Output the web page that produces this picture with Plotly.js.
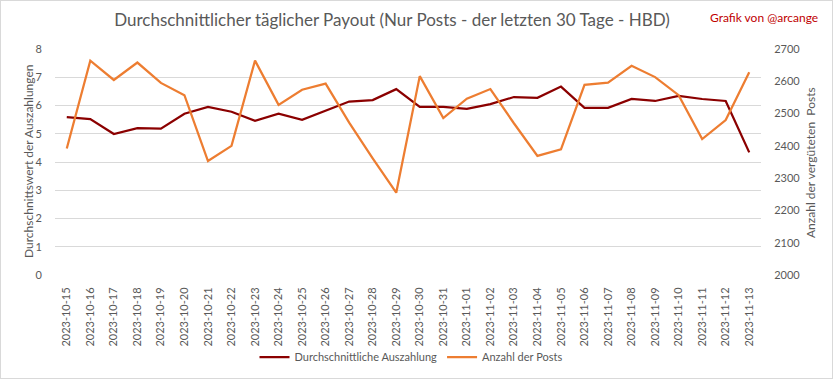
<!DOCTYPE html>
<html><head><meta charset="utf-8">
<script src="https://cdn.plot.ly/plotly-3.0.1.min.js"></script>
<style>
html,body{margin:0;padding:0;background:#fff;}
#chart{width:833px;height:379px;box-sizing:border-box;border:1px solid #d9d9d9;}
</style></head>
<body><div id="chart"></div>
<script>
const dates = ["2023-10-15","2023-10-16","2023-10-17","2023-10-18","2023-10-19","2023-10-20","2023-10-21","2023-10-22","2023-10-23","2023-10-24","2023-10-25","2023-10-26","2023-10-27","2023-10-28","2023-10-29","2023-10-30","2023-10-31","2023-11-01","2023-11-02","2023-11-03","2023-11-04","2023-11-05","2023-11-06","2023-11-07","2023-11-08","2023-11-09","2023-11-10","2023-11-11","2023-11-12","2023-11-13"];
const avgPayout = [5.59,5.52,4.99,5.20,5.18,5.71,5.95,5.78,5.46,5.71,5.49,5.81,6.14,6.19,6.58,5.95,5.95,5.88,6.05,6.30,6.27,6.67,5.92,5.92,6.23,6.16,6.34,6.23,6.16,4.34];
const postCount = [2392,2664,2604,2658,2595,2557,2353,2400,2664,2527,2574,2593,2472,2361,2255,2616,2486,2546,2576,2470,2369,2389,2589,2596,2648,2613,2557,2421,2480,2628];
const leftTicks = [0,1,2,3,4,5,6,7,8];
const rightTicks = [2000,2100,2200,2300,2400,2500,2600,2700];

const gray = '#595959';
const fnt = 'Lato, "Open Sans", sans-serif';
const W = 831, H = 377, L = 54, R = 71, T = 48, B = 103;
const pw = W - L - R, ph = H - T - B;
const clear = 'rgba(0,0,0,0)';
const traces = [
  {x: dates, y: avgPayout, type:'scatter', mode:'lines', name:'Durchschnittliche Auszahlung',
   line:{color:'#8b0000', width:2.25}, yaxis:'y'},
  {x: dates, y: postCount, type:'scatter', mode:'lines', name:'Anzahl der Posts',
   line:{color:'#ed7d31', width:2.25}, yaxis:'y2'}
];
const layout = {
  width:W, height:H,
  margin:{l:L, r:R, t:T, b:B, pad:0, autoexpand:false},
  paper_bgcolor:'#fff', plot_bgcolor:'#fff',
  font:{family:fnt, color:gray, size:11},
  title:{text:'Durchschnittlicher täglicher Payout (Nur Posts - der letzten 30 Tage - HBD)',
    font:{family:fnt, size:17, color:gray}, xref:'container', x:391/W, xanchor:'center',
    yref:'container', y:1-19/H, yanchor:'middle'},
  xaxis:{type:'category', tickvals:dates, ticktext:dates, tickangle:-90, range:[-0.5, dates.length-0.5],
    showgrid:false, showline:false, zeroline:false, ticks:'outside', ticklen:7, tickcolor:clear,
    tickfont:{size:11, color:gray}, automargin:false},
  yaxis:{range:[0,8], tickvals:leftTicks, showgrid:true, gridcolor:'#d9d9d9', gridwidth:1,
    zeroline:false, showline:false, ticks:'outside', ticklen:10, tickcolor:clear,
    tickfont:{size:11, color:gray}, automargin:false},
  yaxis2:{range:[2000,2700], tickvals:rightTicks, overlaying:'y', side:'right', showgrid:false,
    zeroline:false, showline:false, ticks:'outside', ticklen:10, tickcolor:clear,
    tickfont:{size:11, color:gray}, automargin:false},
  showlegend:true,
  legend:{orientation:'h', xref:'container', yref:'container', x:410/W, xanchor:'center',
    y:1-356/H, yanchor:'middle', font:{size:11, color:gray}, bgcolor:clear},
  annotations:[
    {text:'Grafik von @arcange', xref:'paper', yref:'paper',
     x:(819-L)/pw, xanchor:'right', y:1+(T-17)/ph, yanchor:'middle', showarrow:false,
     font:{family:fnt, size:12, color:'#c00000'}},
    {text:'Durchschnittswert der Auszahlungen', xref:'paper', yref:'paper', textangle:-90,
     x:(27-L)/pw, xanchor:'center', y:(T+ph-(162-1))/ph, yanchor:'middle', showarrow:false,
     font:{family:fnt, size:12, color:gray}},
    {text:'Anzahl der vergüteten  Posts', xref:'paper', yref:'paper', textangle:-90,
     x:(809-L)/pw, xanchor:'center', y:(T+ph-(163-1))/ph, yanchor:'middle', showarrow:false,
     font:{family:fnt, size:12, color:gray}}
  ]
};
Plotly.newPlot('chart', traces, layout, {displayModeBar:false, staticPlot:true});
</script></body></html>
